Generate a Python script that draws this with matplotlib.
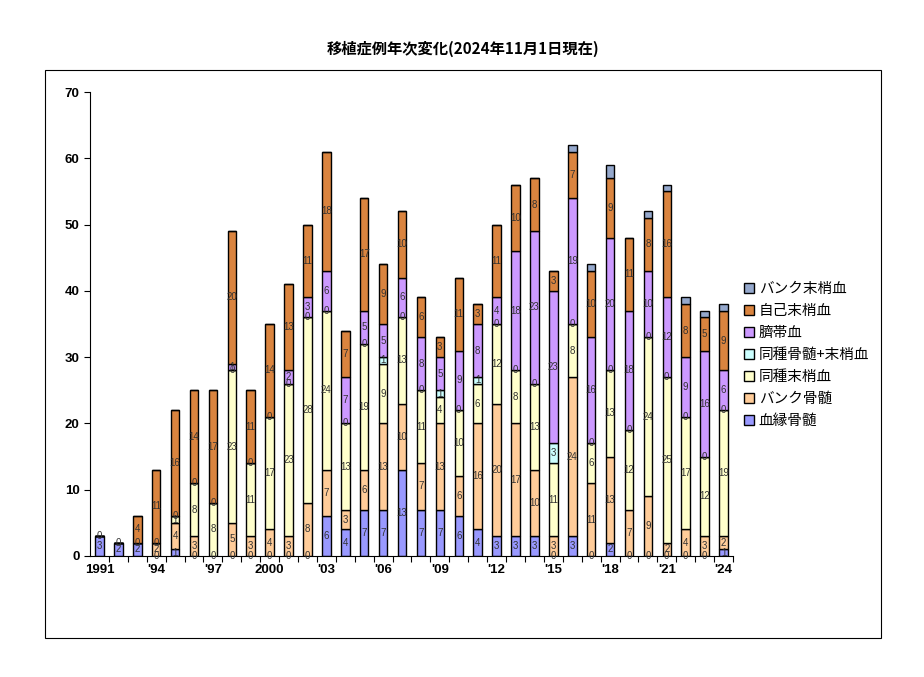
import matplotlib.pyplot as plt
import matplotlib.patches as patches
import numpy as np

plt.rcParams['font.family'] = ['Noto Sans CJK JP', 'DejaVu Sans']

years = list(range(1991, 2025))
tick_years = [1991, 1994, 1997, 2000, 2003, 2006, 2009, 2012, 2015, 2018, 2021, 2024]
tick_labels = ['1991', "'94", "'97", '2000', "'03", "'06", "'09", "'12", "'15", "'18", "'21", "'24"]

# None = no entry for that year (not drawn, no label)
related_bm = [3, 2, 2, 0, 1, 0, 0, 0, 0, 0, 0, 0, 6, 4, 7, 7, 13, 7, 7, 6, 4, 3, 3, 3, 0, 3, 0, 2, 0, 0, 0, 0, 0, 1]
bank_bm = [None, None, None, 2, 4, 3, 0, 5, 3, 4, 3, 8, 7, 3, 6, 13, 10, 7, 13, 6, 16, 20, 17, 10, 3, 24, 11, 13, 7, 9, 2, 4, 3, 2]
allo_pb = [None, None, None, None, 1, 8, 8, 23, 11, 17, 23, 28, 24, 13, 19, 9, 13, 11, 4, 10, 6, 12, 8, 13, 11, 8, 6, 13, 12, 24, 25, 17, 12, 19]
allo_bm_pb = [0, 0, 0, 0, 0, 0, 0, 0, 0, 0, 0, 0, 0, 0, 0, 1, 0, 0, 1, 0, 1, 0, 0, 0, 3, 0, 0, 0, 0, 0, 0, 0, 0, 0]
cord = [None, None, None, None, None, None, None, 1, None, None, 2, 3, 6, 7, 5, 5, 6, 8, 5, 9, 8, 4, 18, 23, 23, 19, 16, 20, 18, 10, 12, 9, 16, 6]
auto_pb = [None, None, 4, 11, 16, 14, 17, 20, 11, 14, 13, 11, 18, 7, 17, 9, 10, 6, 3, 11, 3, 11, 10, 8, 3, 7, 10, 9, 11, 8, 16, 8, 5, 9]
bank_pb = [None] * 25 + [1, 1, 2, None, 1, 1, 1, 1, 1]

series = [
    ('血縁骨髄', related_bm, '#9999FF'),
    ('バンク骨髄', bank_bm, '#FFCC99'),
    ('同種末梢血', allo_pb, '#FFFFCC'),
    ('同種骨髄+末梢血', allo_bm_pb, '#CCFFFF'),
    ('臍帯血', cord, '#CC99FF'),
    ('自己末梢血', auto_pb, '#DA843F'),
    ('バンク末梢血', bank_pb, '#95A8CC'),
]

fig = plt.figure(figsize=(9.24, 6.77), dpi=100)
ax = fig.add_axes([90 / 924, 1 - 556 / 677, 643 / 924, 464 / 677])

x = np.arange(len(years))
bottom = np.zeros(len(years))
handles = []
for name, vals, color in series:
    v = np.array([0 if a is None else a for a in vals], dtype=float)
    h = ax.bar(x, v, 0.45, bottom=bottom, color=color, edgecolor='black', linewidth=1.0, label=name)
    handles.append(h)
    if name != 'バンク末梢血':
        for i, a in enumerate(vals):
            if a is None:
                continue
            if a == 0 and name not in ('血縁骨髄', '同種骨髄+末梢血'):
                continue
            if a == 0 and name == '血縁骨髄' and years[i] < 1994:
                continue
            ax.text(x[i], bottom[i] + a / 2, str(a), ha='center', va='center',
                    fontsize=7, color='#333333', family='Liberation Sans')
    bottom += v

ax.set_xlim(-0.5, len(years) - 0.5)
ax.set_ylim(0, 70)
ax.set_yticks(range(0, 71, 10))
ax.set_yticklabels([str(t) for t in range(0, 71, 10)], family='Liberation Sans', fontsize=9.5, fontweight='bold')
ax.set_xticks(np.arange(len(years)) + 0.5)
ax.tick_params(axis='x', which='major', length=4, labelbottom=False, direction='out')
ax.set_xticks([years.index(y) for y in tick_years], minor=True)
ax.set_xticklabels(tick_labels, minor=True, family='Liberation Sans', fontsize=9.5, fontweight='bold')
ax.tick_params(axis='x', which='minor', length=0, pad=6)
ax.tick_params(axis='y', length=4, direction='out')
for s in ('top', 'right'):
    ax.spines[s].set_visible(False)

ax.legend(handles[::-1], [s[0] for s in series][::-1], loc='center left',
          bbox_to_anchor=(731 / 924, 1 - 355 / 677), bbox_transform=fig.transFigure,
          frameon=False, fontsize=10.5, handlelength=0.7, handleheight=0.7,
          handletextpad=0.3, labelspacing=0.55)

fig.add_artist(patches.Rectangle((45 / 924, 1 - 638 / 677), 836 / 924, 568 / 677,
                                 transform=fig.transFigure, fill=False,
                                 edgecolor='black', linewidth=0.8))
fig.text(463 / 924, 1 - 49 / 677, '移植症例年次変化(2024年11月1日現在)', ha='center',
         va='center', fontsize=11, fontweight='bold')

fig.savefig('out.png', dpi=100)
